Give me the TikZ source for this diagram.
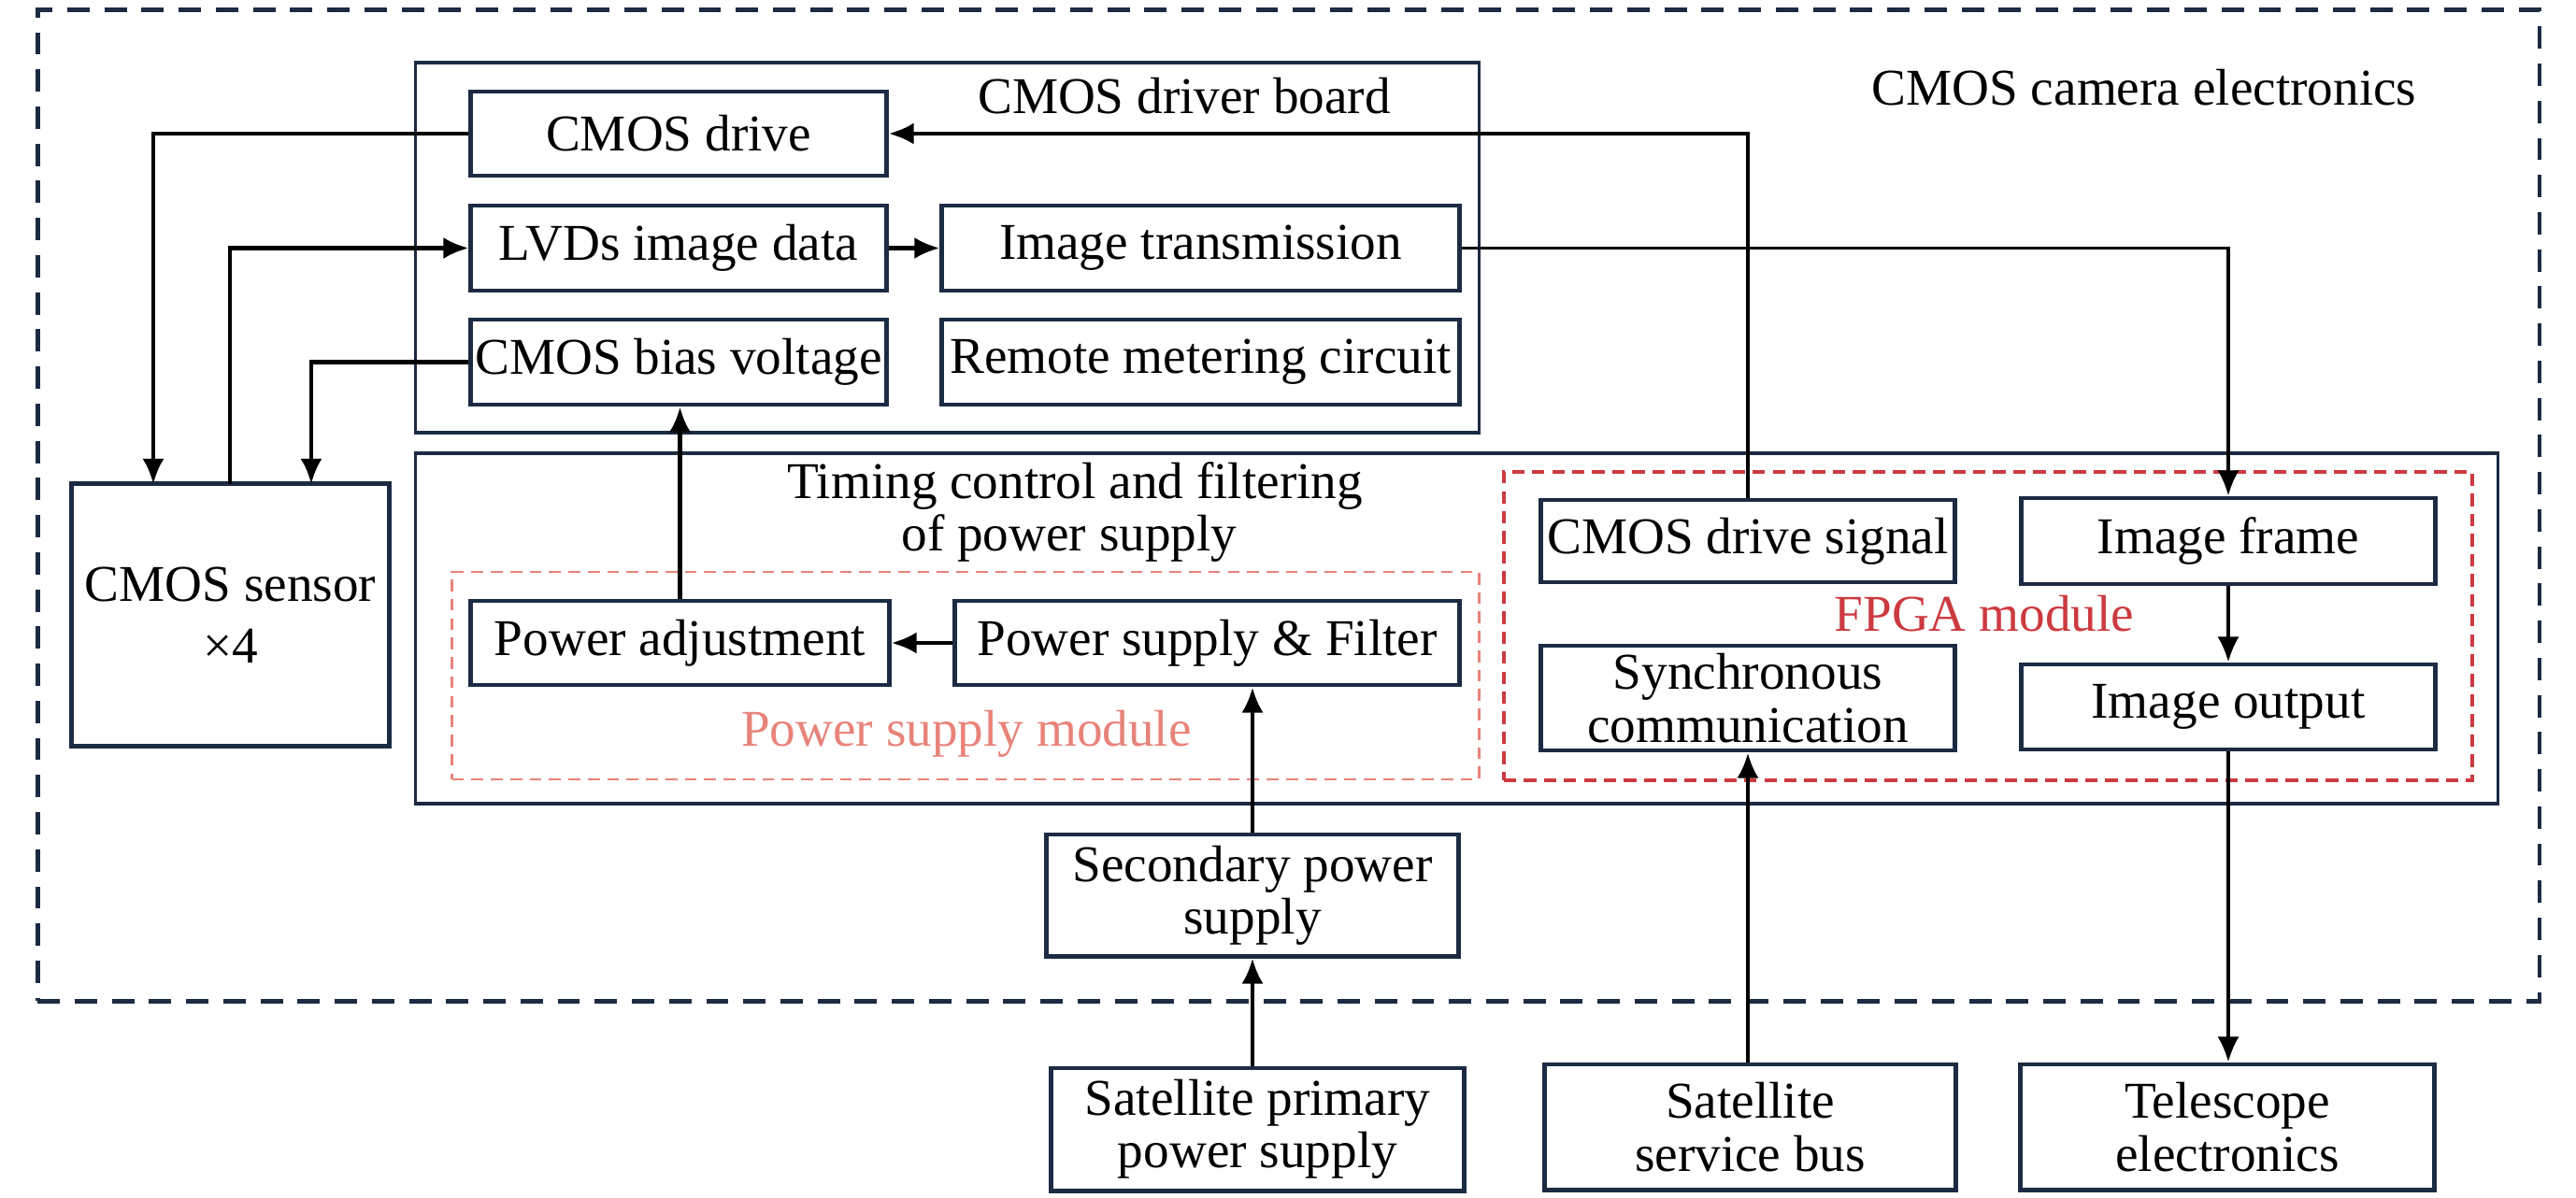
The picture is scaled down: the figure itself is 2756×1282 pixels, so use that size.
\documentclass[tikz,border=0pt]{standalone}
\usepackage{fontspec}
\setmainfont{Liberation Serif}
\usetikzlibrary{arrows.meta}
\definecolor{navy}{HTML}{1C2B43}
\definecolor{salmon}{HTML}{E8837A}
\definecolor{fpgared}{HTML}{CC3A3F}
\begin{document}
\begin{tikzpicture}[x=0.01cm,y=-0.01cm,
  font=\fontsize{15.7pt}{16pt}\selectfont,
  box/.style={draw=navy, line width=1.4pt, fill=white, inner sep=0pt, align=center, text=black},
  cont/.style={draw=navy, line width=1.0pt, inner sep=0pt},
  outerdash/.style={draw=navy, line width=1.3pt, dash pattern=on 6.8pt off 4.5pt, inner sep=0pt},
  psmdash/.style={draw=salmon, line width=0.8pt, dash pattern=on 3.6pt off 2.3pt, inner sep=0pt},
  fpgadash/.style={draw=fpgared, line width=1.1pt, dash pattern=on 3.8pt off 2.3pt, inner sep=0pt},
  arr/.style={-{Latex[length=2.7mm,width=2.3mm]}, line width=1.3pt, black},
  thinarr/.style={-{Latex[length=2.7mm,width=2.3mm]}, line width=1.0pt, black},
  lbl/.style={anchor=base, inner sep=0pt, align=center}]
\useasboundingbox (0,0) rectangle (2756,1282);

% containers
\node[outerdash, minimum width=26.75cm, minimum height=10.60cm] (outer) at (1378.5,541) {};
\node[cont, minimum width=11.37cm, minimum height=3.96cm] (board) at (1013.5,265) {};
\node[cont, minimum width=22.27cm, minimum height=3.75cm] (timing) at (1558.5,672.5) {};
\node[psmdash, minimum width=10.98cm, minimum height=2.22cm] (psm) at (1033,723) {};
\node[fpgadash, minimum width=10.36cm, minimum height=3.30cm] (fpga) at (2127,670) {};

% labels
\node[lbl] (lcam) at (2294,113) {CMOS camera electronics};
\node[lbl] (lboard) at (1267,122) {CMOS driver board};
\node[lbl] (ltim1) at (1150,533) {Timing control and filtering};
\node[lbl] (ltim2) at (1144,589) {of power supply};
\node[lbl, text=salmon] (lpsm) at (1034,798) {Power supply module};
\node[lbl, text=fpgared] (lfpga) at (2123,675) {FPGA module};

% boxes
\node[box, minimum width=4.44cm, minimum height=0.90cm] (drive) at (726,143) {CMOS drive};
\node[box, minimum width=4.44cm, minimum height=0.91cm] (lvds) at (726,265.5) {LVDs image data};
\node[box, minimum width=4.44cm, minimum height=0.91cm] (bias) at (726,387.5) {CMOS bias voltage};
\node[box, minimum width=5.53cm, minimum height=0.91cm] (imgtx) at (1284.5,265.5) {Image transmission};
\node[box, minimum width=5.53cm, minimum height=0.91cm] (remote) at (1284.5,387.5) {Remote metering circuit};
\node[box, minimum width=3.39cm, minimum height=2.80cm] (sensor) at (246.5,658) {CMOS sensor\\[0.1cm]×4};
\node[box, minimum width=4.47cm, minimum height=0.90cm] (padj) at (727.5,688) {Power adjustment};
\node[box, minimum width=5.39cm, minimum height=0.90cm] (psf) at (1291.5,688) {Power supply \& Filter};
\node[box, minimum width=4.42cm, minimum height=0.88cm] (drvsig) at (1870,579) {CMOS drive signal};
\node[box, minimum width=4.42cm, minimum height=1.12cm] (sync) at (1870,747) {Synchronous\\communication};
\node[box, minimum width=4.42cm, minimum height=0.92cm] (frame) at (2384,579) {Image frame};
\node[box, minimum width=4.42cm, minimum height=0.91cm] (output) at (2384,756.5) {Image output};
\node[box, minimum width=4.40cm, minimum height=1.30cm] (secondary) at (1340,958) {Secondary power\\supply};
\node[box, minimum width=4.41cm, minimum height=1.31cm] (primary) at (1345.5,1208.5) {Satellite primary\\power supply};
\node[box, minimum width=4.39cm, minimum height=1.34cm] (bus) at (1872.5,1206) {Satellite\\service bus};
\node[box, minimum width=4.42cm, minimum height=1.34cm] (telescope) at (2383,1206) {Telescope\\electronics};

% sensor top points
\coordinate (s1) at (164,518);
\coordinate (s2) at (246,518);
\coordinate (s3) at (333,518);

% connectors
\draw[arr] (drive.west) -| (s1);
\draw[arr] (s2) |- (lvds.west);
\draw[arr] (bias.west) -| (s3);
\draw[arr] (lvds.east) -- (imgtx.west);
\draw[thinarr] (imgtx.east) -| (frame.north);
\draw[arr] (drvsig.north) |- (drive.east);
\draw[arr] (padj.north) -- (padj.north |- bias.south);
\draw[arr] (psf.west) -- (padj.east);
\draw[arr] (secondary.north) -- (secondary.north |- psf.south);
\draw[arr] (secondary.south |- primary.north) -- (secondary.south);
\draw[arr] (sync.south |- bus.north) -- (sync.south);
\draw[thinarr] (frame.south) -- (output.north);
\draw[thinarr] (output.south) -- (output.south |- telescope.north);
\end{tikzpicture}
\end{document}
